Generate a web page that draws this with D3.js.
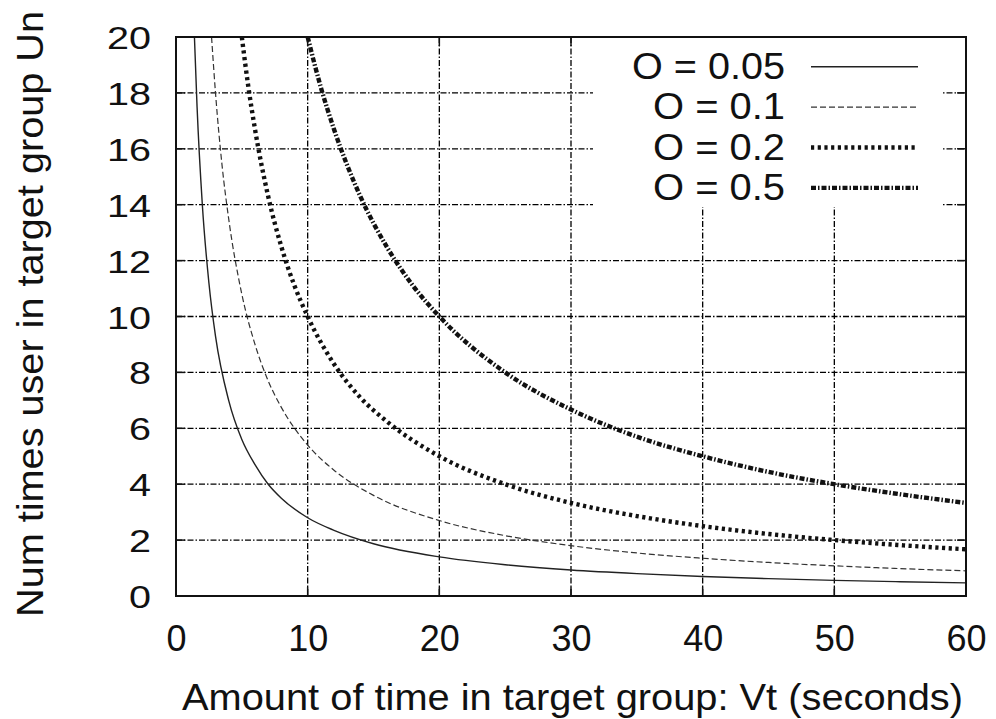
<!DOCTYPE html>
<html>
<head>
<meta charset="utf-8">
<script src="https://cdn.jsdelivr.net/npm/d3@7"></script>
<style>
  body { margin: 0; background: #fff; }
  svg text { font-family: "Liberation Sans", Arial, Helvetica, sans-serif; fill: #111; }
</style>
</head>
<body>
<div id="chart"></div>
<script>
// readings taken off the plot: [Vt, Un]
const o005 = [[1.4,20],[1.6,17.5],[2,14],[2.5,11.2],[3,9.3],[4,7],[5,5.6],[6,4.7],[7,4],[8,3.5],
  [10,2.8],[12,2.35],[15,1.87],[20,1.4],[25,1.12],[30,0.93],[35,0.8],[40,0.7],[45,0.62],[50,0.56],[55,0.51],[60,0.47]];
const o01 = [[2.7,20],[3,18],[3.5,15.4],[4,13.5],[5,10.8],[6,9],[7,7.7],[8,6.75],[10,5.4],[12,4.5],
  [15,3.6],[20,2.7],[25,2.16],[30,1.8],[35,1.54],[40,1.35],[45,1.2],[50,1.08],[55,0.98],[60,0.9]];
const o02 = [[5,20],[5.5,18.2],[6,16.7],[7,14.3],[8,12.5],[9,11.1],[10,10],[12,8.3],[14,7.1],[16,6.25],
  [20,5],[25,4],[30,3.33],[35,2.86],[40,2.5],[45,2.22],[50,2],[55,1.82],[60,1.67]];
const o05 = [[10,20],[11,18.2],[12,16.7],[14,14.3],[16,12.5],[18,11.1],[20,10],[25,8],[30,6.67],
  [35,5.7],[40,5],[45,4.44],[50,4],[55,3.64],[60,3.33]];

const seriesNames = ["O = 0.05", "O = 0.1", "O = 0.2", "O = 0.5"];
const xTicks = [0, 10, 20, 30, 40, 50, 60];
const yTicks = [0, 2, 4, 6, 8, 10, 12, 14, 16, 18, 20];

const W = 996, H = 719;
const margin = {left: 176, right: 30, top: 37, bottom: 123};
const iw = W - margin.left - margin.right, ih = H - margin.top - margin.bottom;

const styles = [
  {w: 1.4, dash: null, col: "#222"},
  {w: 1.2, dash: "6,3", col: "#333"},
  {w: 4.4, dash: "3.2,3.5", col: "#111"},
  {w: 4.4, dash: "5,2,1.5,2", col: "#111"}
];

const svg = d3.select("#chart").append("svg")
  .attr("width", W).attr("height", H);

const x = d3.scaleLinear().domain([0, 60]).range([0, iw]);
const y = d3.scaleLinear().domain([0, 20]).range([ih, 0]);

const g = svg.append("g").attr("transform", "translate(" + margin.left + "," + margin.top + ")");

svg.append("defs").append("clipPath").attr("id", "clip")
  .append("rect").attr("width", iw).attr("height", ih);

// grid
const grid = g.append("g").attr("stroke", "#000").attr("stroke-width", 1.3).attr("stroke-dasharray", "6,2,1.5,2");
grid.selectAll(".gx").data(xTicks.filter(d => d > 0 && d < 60)).enter().append("line")
  .attr("x1", d => x(d)).attr("x2", d => x(d)).attr("y1", 0).attr("y2", ih);
grid.selectAll(".gy").data(yTicks.filter(d => d > 0 && d < 20)).enter().append("line")
  .attr("y1", d => y(d)).attr("y2", d => y(d)).attr("x1", 0).attr("x2", iw);

// tick marks (inside, all four sides)
const tk = g.append("g").attr("stroke", "#111").attr("stroke-width", 1.5);
xTicks.forEach(d => {
  tk.append("line").attr("x1", x(d)).attr("x2", x(d)).attr("y1", ih).attr("y2", ih - 9);
  tk.append("line").attr("x1", x(d)).attr("x2", x(d)).attr("y1", 0).attr("y2", 9);
});
yTicks.forEach(d => {
  tk.append("line").attr("y1", y(d)).attr("y2", y(d)).attr("x1", 0).attr("x2", 9);
  tk.append("line").attr("y1", y(d)).attr("y2", y(d)).attr("x1", iw).attr("x2", iw - 9);
});

// curves
const line = d3.line().x(d => x(d[0])).y(d => y(d[1])).curve(d3.curveMonotoneX);
const curves = g.append("g").attr("clip-path", "url(#clip)");
[o005, o01, o02, o05].forEach((s, i) => {
  curves.append("path").datum(s)
    .attr("d", line)
    .attr("fill", "none")
    .attr("stroke", styles[i].col)
    .attr("stroke-width", styles[i].w)
    .attr("stroke-dasharray", styles[i].dash);
});

// legend
const lg = g.append("g");
lg.append("rect").attr("x", 593 - margin.left).attr("y", 1).attr("width", 349).attr("height", 169).attr("fill", "#fff");
seriesNames.forEach((n, i) => {
  const ry = 66.7 - margin.top + i * 40.4;
  lg.append("text").attr("x", 785 - margin.left).attr("y", ry + 12)
    .attr("text-anchor", "end").attr("font-size", 36)
    .attr("textLength", i === 0 ? 153 : 132).attr("lengthAdjust", "spacingAndGlyphs")
    .text(n);
  lg.append("line").attr("x1", 811 - margin.left).attr("x2", 918 - margin.left)
    .attr("y1", ry).attr("y2", ry)
    .attr("stroke", styles[i].col).attr("stroke-width", styles[i].w)
    .attr("stroke-dasharray", styles[i].dash);
});

// frame
g.append("rect").attr("width", iw).attr("height", ih)
  .attr("fill", "none").attr("stroke", "#111").attr("stroke-width", 2);

// axes labels
const xAxis = d3.axisBottom(x).tickValues(xTicks).tickSize(0).tickPadding(0);
const xa = g.append("g").attr("transform", "translate(0," + ih + ")").call(xAxis);
xa.select(".domain").remove();
xa.selectAll("text").attr("font-size", 36).attr("dy", null).attr("y", 55).attr("fill", "#111");

const yAxis = d3.axisLeft(y).tickValues(yTicks).tickSize(0).tickPadding(0);
const ya = g.append("g").call(yAxis);
ya.select(".domain").remove();
ya.selectAll("text").attr("font-size", 32).attr("x", -25).attr("dy", "0.36em").attr("fill", "#111")
  .attr("textLength", d => String(d).length * 22).attr("lengthAdjust", "spacingAndGlyphs");

svg.append("text").attr("x", 182).attr("y", 710).attr("font-size", 36)
  .attr("textLength", 781).attr("lengthAdjust", "spacingAndGlyphs")
  .text("Amount of time in target group: Vt (seconds)");

svg.append("text").attr("transform", "translate(43,314) rotate(-90)")
  .attr("text-anchor", "middle").attr("font-size", 37)
  .attr("textLength", 606).attr("lengthAdjust", "spacingAndGlyphs")
  .text("Num times user in target group Un");
</script>
</body>
</html>
